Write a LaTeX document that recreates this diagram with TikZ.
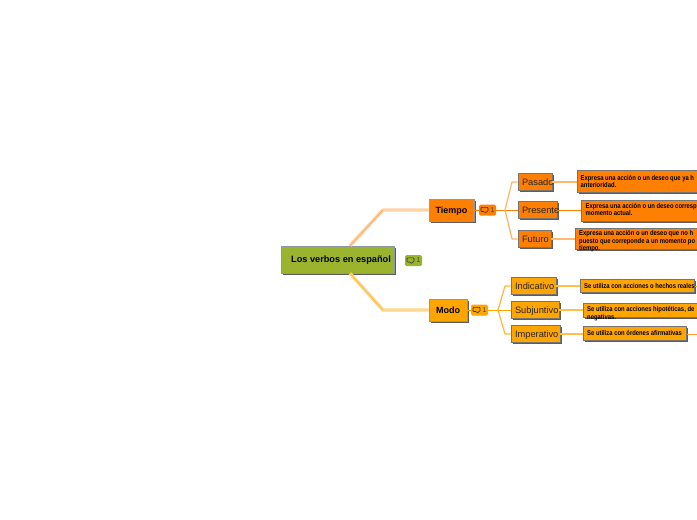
\documentclass[tikz,border=0pt]{standalone}
\usepackage{fontspec}
\setmainfont{Liberation Sans}
\newfontfamily\descfont[FakeStretch=0.84]{Liberation Sans}
\usetikzlibrary{positioning, shadows}

\definecolor{rootgreen}{HTML}{9BB42D}
\definecolor{timeorange}{HTML}{FF7F00}
\definecolor{modeorange}{HTML}{FFA500}
\definecolor{edgegrey}{HTML}{8C98A6}
\definecolor{boxgrey}{HTML}{757575}

\newcommand\boxlabel[1]{\hspace*{4pt}\rlap{#1}}

\tikzset{
    topicbox/.style={draw=boxgrey, line width=0.8pt, inner sep=0pt, minimum height=17pt,
        font=\fontsize{9.3}{10}\selectfont, text=black!85, text height=8pt, text depth=1.6pt,
        drop shadow={shadow xshift=1.8pt, shadow yshift=-1.8pt, fill=black!75, opacity=0.85}},
    leafbox/.style={topicbox, text width=#1, align=left},
    mainbox/.style={topicbox, draw=edgegrey, font=\fontsize{9}{10}\selectfont\bfseries, text=black, minimum height=22pt},
    descbox/.style={topicbox, anchor=north west},
    desctext/.style={inner sep=0pt, anchor=west, align=left, text=black,
        font=\descfont\fontsize{7}{7.6}\selectfont\bfseries},
    notebadge/.style={rounded corners=1.5pt, inner xsep=1.5pt, inner ysep=0pt, text width=14pt,
        align=right, minimum height=11pt, text=black!75, font=\fontsize{7}{8}\selectfont},
    pics/bubble/.style={code={
        \draw[black!80, line width=0.6pt, rounded corners=0.8pt]
            (-3.5,-2.7) -- (3.5,-2.7) -- (3.5,1.5) -- (1.8,1.5) -- (1.2,3.4) -- (-0.2,1.5) -- (-3.5,1.5) -- cycle;
    }},
    stemline/.style={line width=1pt},
    fanline/.style={line width=1.2pt, line join=round},
}

\begin{document}
\begin{tikzpicture}[x=1pt, y=-1pt]
    \useasboundingbox (0,0) rectangle (697,520);
    \clip (0,0) rectangle (697,520);

    % Root topic and its note
    \node[mainbox, fill=rootgreen, minimum width=113pt, minimum height=27pt, font=\fontsize{9.2}{11}\selectfont\bfseries] (root) at (337.5,259.5) {\hspace{7pt}Los verbos en español};
    \node[notebadge, fill=rootgreen] (rootnote) at (413.5,260.5) {1};

    % Main branches
    \node[mainbox, fill=timeorange, minimum width=45pt] (tiempo) at (451.5,210) {Tiempo};
    \node[notebadge, fill=timeorange] (tiemponote) at (487.5,210) {1};
    \node[mainbox, fill=modeorange, minimum width=38pt] (modo) at (448,310) {Modo};
    \node[notebadge, fill=modeorange] (modonote) at (479.5,310) {1};

    % Comment icons
    \pic at ([xshift=-3pt]rootnote.center) {bubble};
    \pic at ([xshift=-3pt]tiemponote.center) {bubble};
    \pic at ([xshift=-3pt]modonote.center) {bubble};

    % Verb tenses
    \node[leafbox=34pt, fill=timeorange] (pasado) at (535,182) {\boxlabel{Pasado}};
    \node[leafbox=39pt, fill=timeorange] (presente) at (537.5,210) {\boxlabel{Presente}};
    \node[leafbox=33pt, fill=timeorange] (futuro) at (534.5,239) {\boxlabel{Futuro}};

    % Verb moods
    \node[leafbox=45pt, fill=modeorange] (indicativo) at (533.5,286) {\boxlabel{Indicativo}};
    \node[leafbox=48pt, fill=modeorange] (subjuntivo) at (535,310) {\boxlabel{Subjuntivo}};
    \node[leafbox=49pt, fill=modeorange] (imperativo) at (535.5,334) {\boxlabel{Imperativo}};

    % Description boxes, text sits on top because it can spill out of them
    \node[descbox, fill=timeorange, minimum width=130pt, minimum height=22pt] (pasadobox) at (577,170) {};
    \node[desctext, right=3.5pt of pasadobox.west] (pasadotext) {Expresa una acción o un deseo que ya h\\anterioridad.};
    \node[descbox, fill=timeorange, minimum width=125pt, minimum height=21pt] (presentebox) at (581,200) {};
    \node[desctext, right=4.5pt of presentebox.west, yshift=1.5pt] (presentetext) {Expresa una acción o un deseo corresp\\momento actual.};
    \node[descbox, fill=timeorange, minimum width=130pt, minimum height=21pt] (futurobox) at (575,228) {};
    \node[desctext, right=4pt of futurobox.west, yshift=-2.5pt] (futurotext) {Expresa una acción o un deseo que no h\\puesto que correponde a un momento po\\tiempo.};

    \node[descbox, fill=modeorange, minimum width=114pt, minimum height=13pt] (indicativobox) at (580,279) {};
    \node[desctext, right=4pt of indicativobox.west] (indicativotext) {Se utiliza con acciones o hechos reales};
    \node[descbox, fill=modeorange, minimum width=125pt, minimum height=14pt] (subjuntivobox) at (583,303) {};
    \node[desctext, right=4pt of subjuntivobox.west, yshift=-3pt] (subjuntivotext) {Se utiliza con acciones hipotéticas, de\\negativas.};
    \node[descbox, fill=modeorange, minimum width=103pt, minimum height=14pt] (imperativobox) at (583,326) {};
    \node[desctext, right=4pt of imperativobox.west] (imperativotext) {Se utiliza con órdenes afirmativas};

    % Root connectors, light band with a stronger core
    \draw[line width=3.4pt, line join=round, timeorange!35] ([xshift=12.5pt]root.north) -- (383,210) -- (tiempo.west);
    \draw[line width=1pt, line join=round, timeorange!60] ([xshift=12.5pt]root.north) -- (383,210);
    \draw[line width=3.4pt, line join=round, modeorange!45] ([xshift=12.5pt]root.south) -- (383,310) -- (modo.west);
    \draw[line width=1pt, line join=round, modeorange!70] ([xshift=12.5pt]root.south) -- (383,310);

    % Tiempo fan
    \coordinate (tiempofork) at (505,210);
    \draw[stemline, timeorange] (tiempo.east) -- (tiemponote.west);
    \draw[stemline, timeorange] (tiemponote.east) -- (tiempofork);
    \draw[fanline, timeorange!60] (tiempofork) -- (512,182) -- (pasado.west);
    \draw[stemline, timeorange] (tiempofork) -- (presente.west);
    \draw[fanline, timeorange!60] (tiempofork) -- (512,239) -- (futuro.west);
    \draw[fanline, timeorange!55] (pasado.east) -- (pasado.east -| pasadobox.west);
    \draw[stemline, timeorange] (presente.east) -- (presente.east -| presentebox.west);
    \draw[fanline, timeorange!55] (futuro.east) -- (futuro.east -| futurobox.west);

    % Modo fan
    \coordinate (modofork) at (498,310);
    \draw[stemline, modeorange] (modo.east) -- (modonote.west);
    \draw[stemline, modeorange] (modonote.east) -- (modofork);
    \draw[fanline, modeorange!80] (modofork) -- (505,286) -- (indicativo.west);
    \draw[stemline, modeorange] (modofork) -- (subjuntivo.west);
    \draw[fanline, modeorange!80] (modofork) -- (505,334) -- (imperativo.west);
    \draw[fanline, modeorange!70] (indicativo.east) -- (indicativo.east -| indicativobox.west);
    \draw[fanline, modeorange!70] (subjuntivo.east) -- (subjuntivo.east -| subjuntivobox.west);
    \draw[fanline, modeorange!70] (imperativo.east) -- (imperativo.east -| imperativobox.west);
    \draw[stemline, modeorange] (indicativobox.east |- indicativo.east) -- ++(4,0);
    \draw[stemline, timeorange!80] (imperativobox.east |- imperativo.east) -- ++(12,0);
\end{tikzpicture}
\end{document}
